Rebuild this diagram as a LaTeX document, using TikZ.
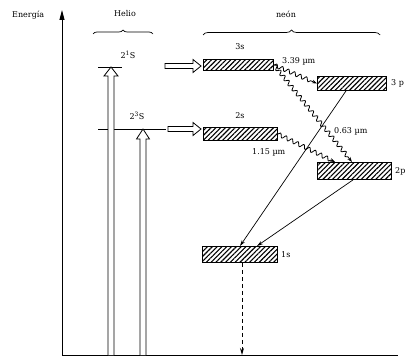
\documentclass[tikz,border=0pt]{standalone}
\usepackage{fontspec}
\setmainfont{DejaVu Serif}
\usetikzlibrary{patterns,patterns.meta,decorations.pathmorphing,decorations.pathreplacing,arrows.meta,calc}
\begin{document}
\begin{tikzpicture}[x=1pt,y=-1pt,
 lvl/.style={draw,line width=0.9pt,pattern={Lines[angle=45,distance=3.4pt,line width=1.1pt]},inner sep=0pt,anchor=north west},
 lbl/.style={font=\fontsize{8}{9}\selectfont,inner sep=0pt},
 wavy/.style={decorate,decoration={snake,amplitude=2pt,segment length=6.5pt,post length=4pt},-{Stealth[length=5pt,width=3.5pt]},line width=0.8pt},
 ray/.style={-{Stealth[length=6pt,width=3.5pt]},line width=0.7pt},
 hollow/.style={draw,line width=0.8pt,fill=white},
 lvline/.style={line width=0.8pt}]
\useasboundingbox (0,0) rectangle (406,358);
% axis
\coordinate (o) at (62,355);
\coordinate (top) at (62,10);
\coordinate (br) at (398,355);
\draw[line width=1pt,-{Triangle[length=10pt,width=5pt]}] (o) -- (top);
\draw[line width=1pt] (o) -- (br);
\node[lbl,anchor=west] (en) at (12,15) {Energía};
% headings and braces
\node[lbl] (he) at (125,14) {Helio};
\node[lbl] (ne) at (286,14) {neón};
\coordinate (hb1) at (93,34); \coordinate (hb2) at (153,34);
\coordinate (nb1) at (203,35); \coordinate (nb2) at (380,35);
\draw[decorate,decoration={brace,amplitude=4pt},line width=0.7pt] (hb1) -- (hb2);
\draw[decorate,decoration={brace,amplitude=5pt},line width=0.7pt] (nb1) -- (nb2);
% helium levels
\coordinate (h1a) at (98,67); \coordinate (h1b) at (122,67);
\coordinate (h3a) at (98,129); \coordinate (h3b) at (166,129);
\draw[lvline] (h1a) -- (h1b);
\draw[lvline] (h3a) -- (h3b);
\node[lbl] (l21) at (128,55) {2\textsuperscript{1}S};
\node[lbl] (l23) at (137,116) {2\textsuperscript{3}S};
% hollow up arrows
\draw[hollow] (108,355) -- (108,76) -- (104,76) -- (111,67) -- (118,76) -- (114,76) -- (114,355);
\draw[hollow] (140,355) -- (140,139) -- (136.5,139) -- (143,129) -- (149.5,139) -- (146,139) -- (146,355);
% hollow right arrows
\draw[hollow] (165,63.5) -- (193,63.5) -- (193,59.5) -- (201,66) -- (193,72.5) -- (193,68.5) -- (165,68.5) -- cycle;
\draw[hollow] (168,126.5) -- (193,126.5) -- (193,122.5) -- (201,129) -- (193,135.5) -- (193,131.5) -- (168,131.5) -- cycle;
% neon levels
\node[lvl,minimum width=70pt,minimum height=11pt] (s3) at (203,59) {};
\node[lvl,minimum width=69pt,minimum height=14pt] (p3) at (317,76) {};
\node[lvl,minimum width=74pt,minimum height=13pt] (s2) at (203,127) {};
\node[lvl,minimum width=74pt,minimum height=17pt] (p2) at (317,162) {};
\node[lvl,minimum width=75pt,minimum height=16pt] (s1) at (202,246) {};
\node[lbl] (t3s) at (240,47) {3s};
\node[lbl] (t2s) at (240,116) {2s};
\node[lbl,anchor=west] (t1s) at (281,255) {1s};
\node[lbl,anchor=west] (t3p) at (391,83) {3 p};
\node[lbl,anchor=west] (t2p) at (395,171) {2p};
% wavy transitions
\draw[wavy] (s3.east) -- (p3.west);
\draw[wavy] (s3.east) -- ($(p2.north west)+(35,0)$);
\draw[wavy] (s2.east) -- ($(p2.north west)+(18,0)$);
\node[lbl,anchor=west] (w1) at (282,61) {3.39 µm};
\node[lbl,anchor=west] (w2) at (334,131) {0.63 µm};
\node[lbl,anchor=west] (w3) at (252,152) {1.15 µm};
% straight transitions
\draw[ray] ($(p3.south west)+(29,0)$) -- ($(s1.north west)+(38,0)$);
\draw[ray] ($(p2.south west)+(36,0)$) -- ($(s1.north west)+(55,0)$);
% dashed
\coordinate (g) at (242,355);
\draw[line width=0.9pt,dash pattern=on 4pt off 3pt,-{Stealth[length=7pt,width=4pt]}] ($(s1.south west)+(40,0)$) -- (g);
\end{tikzpicture}
\end{document}
